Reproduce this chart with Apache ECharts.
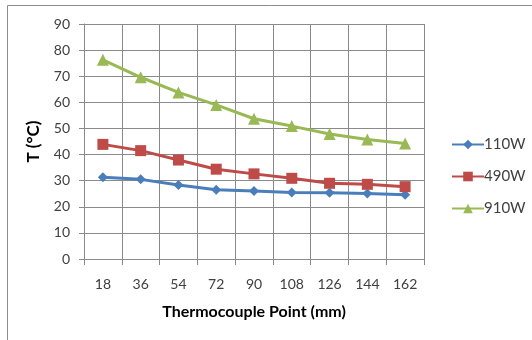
<!DOCTYPE html>
<html>
<head>
<meta charset="utf-8">
<script src="https://cdn.jsdelivr.net/npm/echarts@6/dist/echarts.min.js"></script>
<style>
  html, body { margin: 0; padding: 0; background: #fff; }
  #chart { width: 532px; height: 340px; }
</style>
</head>
<body>
<div id="chart"></div>
<script>
// thermocouple positions (mm)
const points = ['18', '36', '54', '72', '90', '108', '126', '144', '162']
const t110 = [31.3, 30.5, 28.3, 26.5, 26.0, 25.5, 25.4, 25.1, 24.6]
const t490 = [43.9, 41.5, 37.9, 34.4, 32.6, 30.9, 29.0, 28.6, 27.7]
const t910 = [76.3, 69.6, 63.8, 59.0, 53.7, 50.9, 47.9, 45.8, 44.2]
const yTicks = { min: 0, max: 90, interval: 10 }

const gridColor = '#8a8a8a'
const textColor = '#404040'
const font = 'Lato'

const chart = echarts.init(document.getElementById('chart'), null, { renderer: 'canvas' })

function series(name, data, color, symbol, size) {
  return {
    name,
    type: 'line',
    data,
    symbol,
    symbolSize: size,
    lineStyle: { color, width: 3 },
    itemStyle: { color },
    animation: false,
  }
}

chart.setOption({
  backgroundColor: '#fff',
  textStyle: { fontFamily: font },
  graphic: [{
    type: 'rect',
    shape: { x: 7.5, y: 5.5, width: 600, height: 400 },
    style: { fill: 'none', stroke: '#8c8c8c', lineWidth: 1 },
    silent: true,
  }],
  grid: { left: 84, right: 108, top: 24, bottom: 81 },
  legend: {
    orient: 'vertical',
    left: 446,
    top: 132,
    itemWidth: 32,
    itemHeight: 12,
    itemGap: 17,
    textStyle: { color: textColor, fontSize: 15, fontFamily: font, padding: [0, 0, 0, -5] },
    data: ['110W', '490W', '910W'],
  },
  xAxis: {
    type: 'category',
    data: points,
    boundaryGap: true,
    name: 'Thermocouple Point (mm)',
    nameLocation: 'middle',
    nameGap: 45,
    nameTextStyle: { color: '#000', fontWeight: 'bold', fontSize: 16, fontFamily: font },
    axisLine: { lineStyle: { color: gridColor } },
    axisTick: { show: true, length: 6, lineStyle: { color: gridColor } },
    axisLabel: { color: textColor, fontSize: 14, margin: 18 },
    splitLine: { show: true, lineStyle: { color: gridColor } },
  },
  yAxis: {
    type: 'value',
    min: yTicks.min,
    max: yTicks.max,
    interval: yTicks.interval,
    name: 'T (°C)',
    nameLocation: 'middle',
    nameGap: 42,
    nameRotate: 90,
    nameTextStyle: { color: '#000', fontWeight: 'bold', fontSize: 17, fontFamily: font },
    axisLine: { show: true, lineStyle: { color: gridColor } },
    axisTick: { show: true, length: 5, lineStyle: { color: gridColor } },
    axisLabel: { color: textColor, fontSize: 14, margin: 14 },
    splitLine: { show: true, lineStyle: { color: gridColor } },
  },
  series: [
    series('110W', t110, '#4a7ebb', 'diamond', 10),
    series('490W', t490, '#be4b48', 'rect', 11),
    series('910W', t910, '#98b954', 'triangle', 12),
  ],
})
</script>
</body>
</html>
